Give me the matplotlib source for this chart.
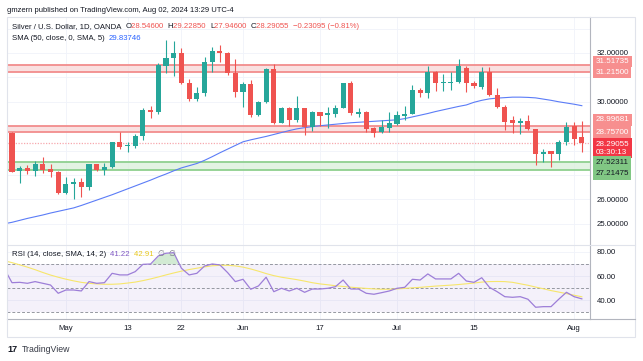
import numpy as np
import matplotlib.pyplot as plt
from matplotlib.lines import Line2D
from matplotlib.patches import Rectangle

plt.rcParams['font.family'] = ['Liberation Sans', 'DejaVu Sans']

# Data candle harian XAG/USD (OANDA), 22 Apr - 2 Aug 2024
opens = [28.71, 27.15, 27.30, 27.16, 27.44, 27.23, 27.14, 26.25, 26.62, 26.70,
         26.52, 27.44, 27.22, 27.32, 28.34, 28.18, 28.20, 28.60, 29.66, 29.57,
         31.48, 31.81, 31.99, 30.78, 30.10, 30.35, 31.62, 32.08, 31.99, 31.17,
         30.39, 30.72, 29.46, 29.98, 31.33, 29.14, 29.76, 29.26, 29.73, 28.95,
         29.57, 29.47, 29.50, 29.76, 30.76, 29.50, 29.60, 28.94, 28.75, 28.92,
         29.09, 29.42, 29.50, 30.48, 30.38, 31.21, 30.76, 30.77, 30.80, 31.40,
         30.78, 30.62, 31.24, 30.28, 29.80, 29.25, 29.12, 29.21, 28.89, 27.85,
         27.98, 27.85, 28.36, 29.02, 28.546]
highs = [28.75, 27.35, 27.42, 27.57, 27.73, 27.44, 27.16, 26.93, 26.86, 26.88,
         27.47, 27.46, 27.50, 28.36, 28.77, 28.37, 28.69, 29.73, 29.82, 31.58,
         32.53, 32.49, 32.19, 30.92, 30.62, 31.85, 32.26, 32.33, 32.05, 31.74,
         30.82, 30.89, 30.03, 31.37, 31.55, 29.80, 29.78, 30.24, 29.75, 29.64,
         29.60, 29.77, 29.87, 30.78, 30.87, 29.73, 29.62, 28.97, 29.25, 29.60,
         29.63, 29.84, 30.69, 30.58, 31.48, 31.25, 31.14, 31.21, 31.75, 31.45,
         30.85, 31.44, 31.41, 30.55, 29.87, 29.42, 29.32, 29.46, 28.90, 28.05,
         28.00, 28.43, 29.18, 29.18, 29.2285]
lows = [27.12, 26.67, 27.05, 26.96, 27.09, 26.93, 26.24, 26.22, 26.00, 26.11,
        26.40, 27.15, 26.99, 27.30, 28.05, 27.96, 28.10, 28.43, 29.32, 29.49,
        31.20, 31.07, 30.72, 30.03, 30.04, 30.25, 31.23, 31.62, 31.10, 30.21,
        29.80, 29.39, 29.42, 29.97, 29.10, 29.12, 28.99, 29.19, 28.64, 28.80,
        29.00, 28.91, 29.37, 29.74, 29.46, 29.39, 28.77, 28.57, 28.72, 28.77,
        29.05, 29.25, 29.48, 30.21, 30.14, 30.45, 30.45, 30.48, 30.78, 30.39,
        30.55, 30.51, 30.25, 29.76, 28.84, 28.73, 28.68, 28.85, 27.41, 27.55,
        27.32, 27.61, 28.23, 28.23, 27.946]
closes = [27.14, 27.30, 27.15, 27.44, 27.20, 27.14, 26.25, 26.63, 26.70, 26.52,
          27.45, 27.22, 27.34, 28.34, 28.16, 28.22, 28.60, 29.66, 29.57, 31.51,
          31.81, 31.99, 30.76, 30.10, 30.37, 31.62, 32.08, 31.99, 31.17, 30.39,
          30.72, 29.46, 29.98, 31.33, 29.14, 29.76, 29.26, 29.74, 28.95, 29.57,
          29.43, 29.53, 29.76, 30.76, 29.53, 29.57, 28.89, 28.73, 28.98, 29.14,
          29.46, 29.50, 30.48, 30.38, 31.21, 30.76, 30.81, 30.83, 31.47, 30.76,
          30.66, 31.24, 30.28, 29.80, 29.18, 29.12, 29.23, 28.87, 27.85, 27.93,
          27.85, 28.36, 28.98, 28.48, 28.29055]

# SMA 50 (nilai pertama = candle 19 Apr yang terpotong di kiri)
sma50 = [25.00, 25.06, 25.14, 25.22, 25.29, 25.36, 25.44, 25.51, 25.58, 25.65,
         25.75, 25.86, 25.97, 26.08, 26.19, 26.31, 26.43, 26.55, 26.67, 26.79,
         26.92, 27.04, 27.17, 27.29, 27.38, 27.47, 27.60, 27.75, 27.91, 28.06,
         28.21, 28.36, 28.44, 28.51, 28.58, 28.66, 28.74, 28.82, 28.89, 28.94,
         28.98, 29.02, 29.05, 29.08, 29.11, 29.14, 29.16, 29.18, 29.20, 29.22,
         29.24, 29.26, 29.31, 29.38, 29.45, 29.52, 29.60, 29.67, 29.74, 29.81,
         29.87, 29.98, 30.06, 30.12, 30.15, 30.17, 30.19, 30.19, 30.18, 30.16,
         30.11, 30.06, 30.00, 29.95, 29.90, 29.84]

# RSI 14 dan SMA 14 dari RSI (nilai pertama = 19 Apr)
rsi = [66.0, 54.5, 54.8, 54.0, 55.4, 54.0, 52.6, 45.8, 48.5, 48.5,
       47.7, 55.4, 54.0, 54.5, 62.2, 60.9, 60.9, 63.6, 69.6, 69.9,
       76.5, 78.7, 79.2, 66.4, 60.9, 62.2, 68.2, 69.9, 69.1, 62.8,
       55.4, 57.3, 49.1, 51.8, 59.0, 47.1, 49.9, 47.7, 49.9, 46.6,
       49.3, 49.3, 49.9, 51.2, 56.7, 49.3, 49.3, 45.8, 45.0, 46.3,
       47.7, 49.9, 50.7, 57.3, 56.7, 61.7, 57.6, 57.6, 57.6, 62.2,
       55.9, 54.8, 58.6, 50.7, 47.1, 43.0, 42.5, 43.0, 40.9, 34.3,
       34.8, 34.8, 40.9, 46.6, 43.0, 41.22]
rsi_sma = [72.5, 71.0, 69.2, 67.3, 65.2, 62.9, 60.8, 59.0, 57.4, 56.0,
           54.8, 54.0, 53.5, 53.2, 53.2, 53.5, 54.2, 55.0, 56.2, 57.6,
           59.2, 60.9, 62.5, 64.0, 65.3, 66.4, 67.5, 68.4, 68.8, 68.8,
           68.3, 67.3, 65.8, 64.0, 62.0, 60.3, 59.0, 58.0, 57.0, 55.8,
           54.5, 53.5, 52.8, 52.0, 51.4, 50.8, 50.3, 49.8, 49.4, 49.1,
           49.1, 49.4, 49.8, 50.3, 50.7, 51.2, 51.7, 52.1, 52.5, 53.0,
           53.6, 54.2, 55.0, 55.4, 55.5, 55.4, 54.8, 53.6, 52.4, 50.9,
           49.5, 48.0, 46.8, 45.5, 44.2, 42.91]

date_pos = [7, 15, 22, 30, 40, 50, 60, 73]
date_labels = ['May', '13', '22', 'Jun', '17', 'Jul', '15', 'Aug']
price_labels = [25, 26, 30, 32]

zone_red = [(31.215, 31.51735), (28.757, 28.99681)]
zone_green = (27.21475, 27.52311)
last_price = 28.29055

UP = '#26a69a'
DOWN = '#ef5350'
TXT = '#131722'
GRID = '#f0f3fa'
AXC = '#b2b5be'

W, H = 643, 361
fig = plt.figure(figsize=(W / 100, H / 100), dpi=100)

def fx(px):
    return px / W

def fy(py):
    return 1 - py / H

ax = fig.add_axes([fx(7), fy(245), fx(583), 228 / H])
axr = fig.add_axes([fx(7), fy(319.3), fx(583), 74.3 / H], sharex=ax)

n = len(closes)
idx = np.arange(n)
o = np.array(opens)
c = np.array(closes)
col = np.where(c >= o, UP, DOWN)

# zona support / resistance
for lo, hi in zone_red:
    ax.axhspan(lo, hi, color='#f7d4d4', alpha=0.7, lw=0, zorder=1)
    ax.axhline(lo, color='#f28c8c', lw=1.3, zorder=1.5)
    ax.axhline(hi, color='#f28c8c', lw=1.3, zorder=1.5)
ax.axhspan(zone_green[0], zone_green[1], color='#dcf0dc', alpha=0.8, lw=0, zorder=1)
ax.axhline(zone_green[0], color='#8fd08f', lw=1.3, zorder=1.5)
ax.axhline(zone_green[1], color='#8fd08f', lw=1.3, zorder=1.5)
ax.axhline(last_price, color='#f7a8ae', lw=0.9, ls=(0, (1, 1.2)), zorder=1.5)

# candle
ax.vlines(idx, lows, highs, colors=col, lw=0.8, zorder=3)
body = np.maximum(np.abs(c - o), 0.04)
ax.bar(idx, body, bottom=np.minimum(o, c), width=0.66, color=col, lw=0, zorder=4)

# SMA 50
ax.plot(np.arange(-1, n), sma50, color='#5b7cf7', lw=0.8, zorder=2.5)

ax.set_xlim(-0.65, 75.06)
ax.set_ylim(24.13, 33.475)
ax.set_yticks(np.arange(25, 34), minor=True)
ax.set_yticks(price_labels)
ax.set_yticklabels(['%.5f' % v for v in price_labels])
ax.yaxis.tick_right()
ax.tick_params(axis='y', which='both', length=0, pad=5, labelsize=5.6, labelcolor=TXT)
ax.tick_params(axis='x', length=0, labelbottom=False)
ax.set_xticks(date_pos)
ax.grid(True, which='both', color=GRID, lw=0.6)
ax.set_axisbelow(True)
for s in ['top', 'left', 'bottom']:
    ax.spines[s].set_visible(False)
ax.spines['right'].set_color(AXC)
ax.spines['right'].set_linewidth(0.8)

# label harga di sumbu kanan
tags = [
    (31.51735, '31.51735', '#f78f8f', 'white', 2.3),
    (31.215, '31.21500', '#f78f8f', 'white', 0),
    (28.99681, '28.99681', '#f78f8f', 'white', 4.6),
    (28.757, '28.75700', '#f78f8f', 'white', 0),
    (last_price, '28.29055\n03:30:13', '#f23645', 'white', -3.4),
    (27.52311, '27.52311', '#81c784', TXT, 0),
    (27.21475, '27.21475', '#81c784', TXT, -3),
]
for yv, s, bg, fg, off in tags:
    ax.annotate(s, xy=(1.0, yv), xycoords=('axes fraction', 'data'),
                xytext=(4, off), textcoords='offset points', ha='left', va='center',
                fontsize=5.8, color=fg, linespacing=1.2, annotation_clip=False,
                bbox=dict(boxstyle='square,pad=0.3', fc=bg, ec='none'), zorder=10)

# panel RSI
axr.axhspan(30, 70, color='#7e57c2', alpha=0.08, lw=0)
for lv in [70, 50, 30]:
    axr.axhline(lv, color='#9598a1', lw=0.7, ls=(0, (3, 2)))
xr = np.arange(-1, n)
r = np.array(rsi)
axr.fill_between(xr, 70, r, where=r > 70, interpolate=True, color='#4caf50', alpha=0.25, lw=0)
axr.plot(xr, rsi_sma, color='#f7e66b', lw=0.8)
axr.plot(xr, rsi, color='#9d7ed8', lw=0.9)
axr.set_ylim(24.4, 85.5)
axr.set_yticks([40, 60, 80])
axr.set_yticklabels(['40.00', '60.00', '80.00'])
axr.yaxis.tick_right()
axr.tick_params(axis='y', length=0, pad=5, labelsize=5.6, labelcolor=TXT)
axr.set_xticks(date_pos)
axr.set_xticklabels(date_labels)
axr.tick_params(axis='x', length=0, pad=4, labelsize=5.6, labelcolor=TXT)
axr.grid(True, color=GRID, lw=0.6)
axr.set_axisbelow(True)
for s in ['top', 'left']:
    axr.spines[s].set_visible(False)
for s in ['right', 'bottom']:
    axr.spines[s].set_color(AXC)
    axr.spines[s].set_linewidth(0.8)

# bingkai, pemisah panel
fig.add_artist(Rectangle((fx(7), fy(337)), fx(628), 320 / H, transform=fig.transFigure,
                         fill=False, ec='#e0e3eb', lw=0.8))
fig.add_artist(Line2D([fx(7), fx(635)], [fy(245), fy(245)], color='#e0e3eb', lw=0.8))
fig.add_artist(Line2D([fx(590), fx(635)], [fy(319.3), fy(319.3)], color=AXC, lw=0.8))

# teks berwarna, disambung satu per satu
renderer = fig.canvas.get_renderer()

def pieces(x, y, parts, size=5.6):
    for s, cl in parts:
        t = fig.text(fx(x), fy(y), s, color=cl, fontsize=size, va='center', ha='left')
        x += t.get_window_extent(renderer).width

fig.text(fx(7), fy(10), 'gmzern published on TradingView.com, Aug 02, 2024 13:29 UTC-4',
         fontsize=5.5, color=TXT, va='center')
pieces(12, 27, [('Silver / U.S. Dollar, 1D, OANDA  ', TXT), ('O', TXT), ('28.54600  ', DOWN),
                ('H', TXT), ('29.22850  ', DOWN), ('L', TXT), ('27.94600  ', DOWN),
                ('C', TXT), ('28.29055  ', DOWN), ('\u22120.23095 (\u22120.81%)', DOWN)])
pieces(12, 38, [('SMA (50, close, 0, SMA, 5)  ', TXT), ('29.83746', '#2962ff')])
pieces(12, 255, [('RSI (14, close, SMA, 14, 2)  ', TXT), ('41.22  ', '#7e57c2'),
                 ('42.91  ', '#e8c81c'), ('\u2205  \u2205', '#787b86')])

fig.text(fx(7), fy(349), '17', fontsize=6.5, fontweight='bold', color=TXT, va='center')
fig.text(fx(22), fy(349), 'TradingView', fontsize=6.3, color='#363a45', va='center')

fig.savefig('out.png', dpi=100)
